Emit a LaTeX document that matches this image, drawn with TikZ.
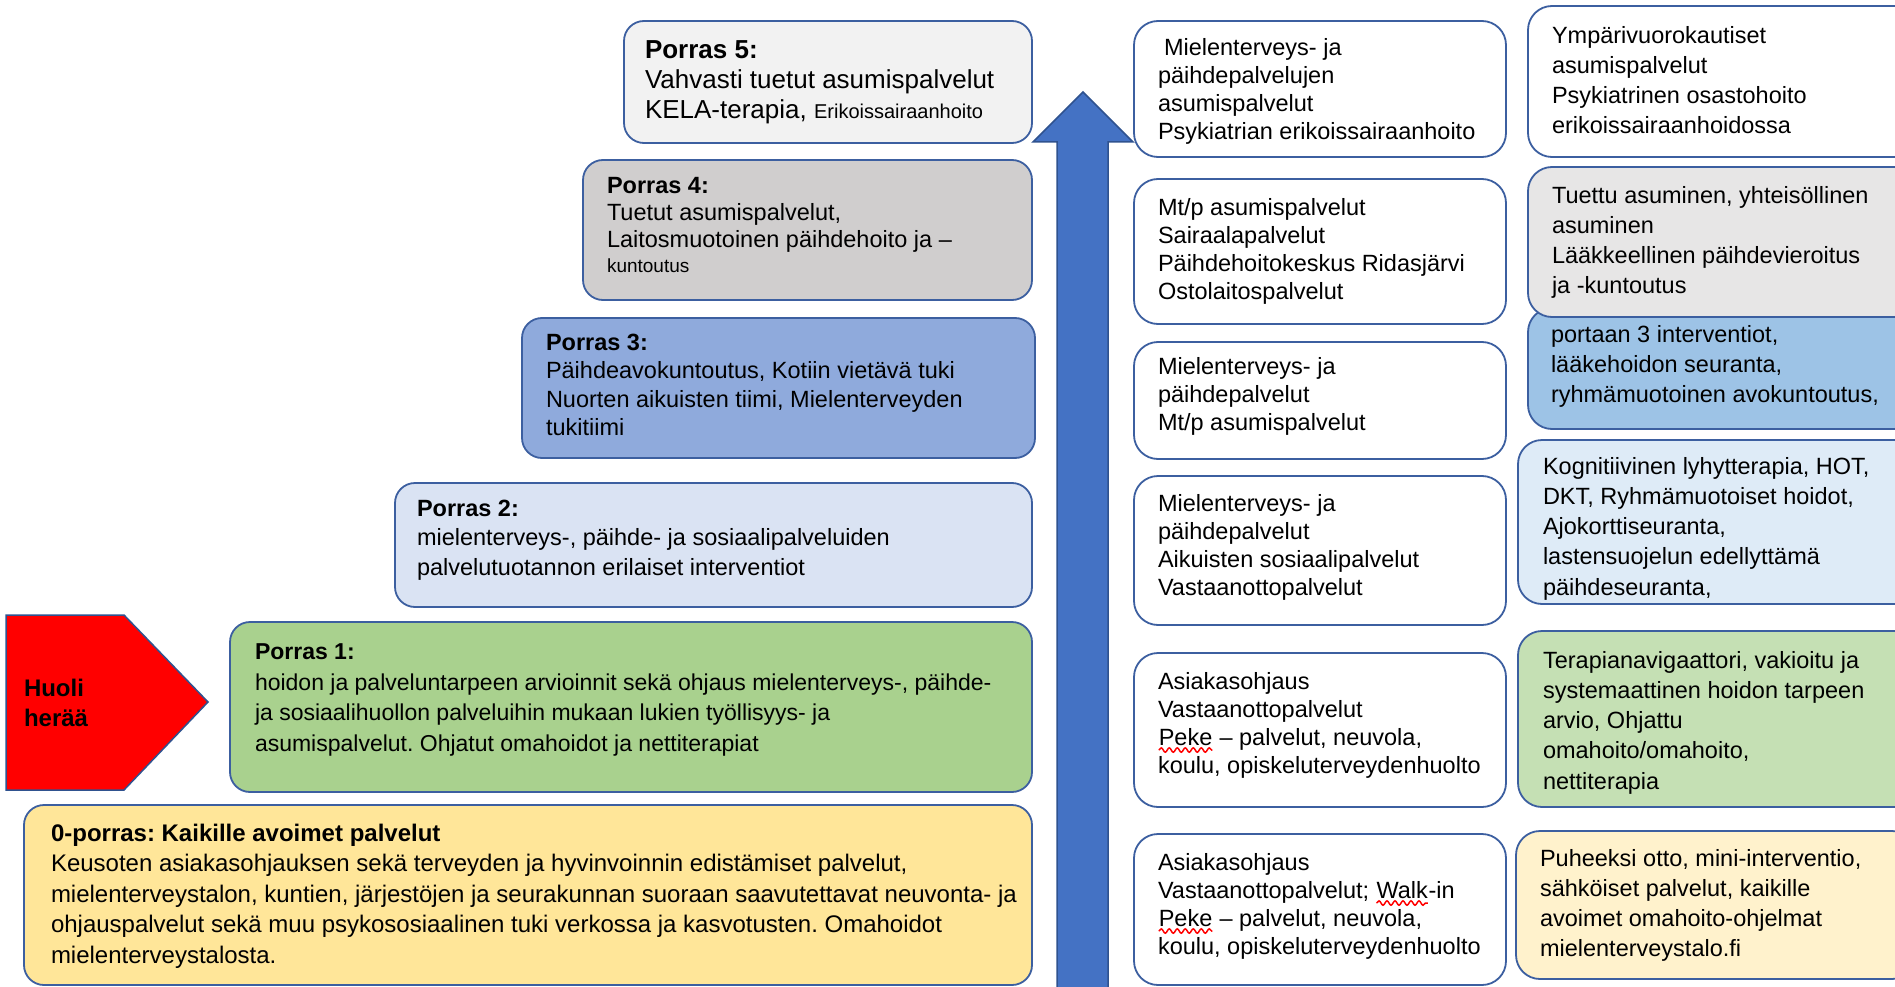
\documentclass[tikz,border=0pt]{standalone}
\usepackage{fontspec}
\setmainfont{Liberation Sans}
\frenchspacing
\usetikzlibrary{decorations.pathmorphing}
\definecolor{bordc}{RGB}{60,95,160}
\definecolor{cfive}{HTML}{F2F2F2}
\definecolor{cfour}{HTML}{D0CECE}
\definecolor{cthree}{HTML}{8FAADC}
\definecolor{ctwo}{HTML}{DAE3F3}
\definecolor{cone}{HTML}{A9D18E}
\definecolor{czero}{HTML}{FFE699}
\definecolor{arrowc}{HTML}{4472C4}
\definecolor{arrowb}{HTML}{2F528F}
\definecolor{rtwo}{HTML}{E7E6E6}
\definecolor{rthree}{HTML}{9DC3E6}
\definecolor{rfour}{HTML}{DEEBF7}
\definecolor{rfive}{HTML}{C5E0B4}
\definecolor{rsix}{HTML}{FFF2CC}
\newcommand{\fsz}[2]{\fontsize{#1}{#2}\selectfont}
\newcommand{\squig}[1]{\tikz[baseline=(sq.base)]{\node[inner sep=0pt,outer sep=0pt] (sq) {#1};\draw[red,line width=1.5pt,decorate,decoration={snake,amplitude=2.2pt,segment length=8pt}] ([yshift=-5pt]sq.base west) -- ([yshift=-5pt]sq.base east);}}
\tikzset{
  box/.style={draw=bordc, line width=1.8pt, rounded corners=20pt, anchor=north west, inner sep=0pt, outer sep=0pt},
  mbox/.style={box, fill=white, rounded corners=24pt, minimum width=372pt},
  rbox/.style={box, rounded corners=24pt, minimum width=400pt},
  txt/.style={anchor=north west, inner sep=0pt, outer sep=0pt, align=left, text=black},
  mtxt/.style={txt, font=\fsz{23.5}{28}},
  rtxt/.style={txt, font=\fsz{23.5}{30.3}},
}
\begin{document}
\begin{tikzpicture}[x=1pt,y=-1pt]
\useasboundingbox (0,0) rectangle (1895,987);
\fill[white] (0,0) rectangle (1895,987);

% steps (portaat)
\node[box, fill=cfive, minimum width=408pt, minimum height=122pt] (p5) at (624,21) {};
\node[box, fill=cfour, minimum width=449pt, minimum height=140pt] (p4) at (583,160) {};
\node[box, fill=cthree, minimum width=513pt, minimum height=140pt] (p3) at (522,318) {};
\node[box, fill=ctwo, minimum width=637pt, minimum height=124pt] (p2) at (395,483) {};
\node[box, fill=cone, minimum width=802pt, minimum height=170pt] (p1) at (230,622) {};
\node[box, fill=czero, minimum width=1008pt, minimum height=180pt] (p0) at (24,805) {};

% Huoli herää
\draw[fill=red, draw=arrowb, line width=1.5pt] (6,615) -- (124,615) -- (208,702) -- (124,790) -- (6,790) -- cycle;
\node[txt, font=\bfseries\fsz{24}{30}] (huoli) at (24,679) {Huoli\\herää};

% big arrow
\draw[fill=arrowc, draw=arrowb, line width=1.5pt] (1057,1000) -- (1057,142) -- (1033,142) -- (1083,92) -- (1133,142) -- (1108,142) -- (1108,1000) -- cycle;

% middle column
\node[mbox, minimum height=136pt] (m1) at (1134,21) {};
\node[mbox, minimum height=145pt] (m2) at (1134,179) {};
\node[mbox, minimum height=117pt] (m3) at (1134,342) {};
\node[mbox, minimum height=149pt] (m4) at (1134,476) {};
\node[mbox, minimum height=154pt] (m5) at (1134,653) {};
\node[mbox, minimum height=151pt] (m6) at (1134,834) {};

% right column
\node[rbox, fill=white, minimum width=390pt, minimum height=151pt] (r1) at (1528,6) {};
\node[rbox, fill=rthree, minimum width=390pt, minimum height=121pt] (r3) at (1528,308) {};
\node[rbox, fill=rtwo, minimum width=390pt, minimum height=150pt] (r2) at (1528,167) {};
\node[rbox, fill=rfour, minimum height=164pt] (r4) at (1518,440) {};
\node[rbox, fill=rfive, minimum height=176pt] (r5) at (1518,631) {};
\node[rbox, fill=rsix, minimum height=148pt] (r6) at (1516,831) {};

% step texts
\node[txt, font=\fsz{26}{30}] (p5t) at (645,41) {\textbf{Porras 5:}\\Vahvasti tuetut asumispalvelut\\KELA-terapia, {\fsz{20}{30}Erikoissairaanhoito}};
\node[txt, font=\fsz{23.5}{27}] (p4t) at (607,177) {\textbf{Porras 4:}\\Tuetut asumispalvelut,\\Laitosmuotoinen päihdehoito ja –\\[-2pt]{\fsz{19}{25}kuntoutus}};
\node[txt, font=\fsz{23.5}{28.3}] (p3t) at (546,334) {\textbf{Porras 3:}\\Päihdeavokuntoutus, Kotiin vietävä tuki\\Nuorten aikuisten tiimi, Mielenterveyden\\tukitiimi};
\node[txt, font=\fsz{23.5}{29.5}] (p2t) at (417,500) {\textbf{Porras 2:}\\mielenterveys-, päihde- ja sosiaalipalveluiden\\palvelutuotannon erilaiset interventiot};
\node[txt, font=\fsz{23}{30.5}] (p1t) at (255,644) {\textbf{Porras 1:}\\hoidon ja palveluntarpeen arvioinnit sekä ohjaus mielenterveys-, päihde-\\ja sosiaalihuollon palveluihin mukaan lukien työllisyys- ja\\asumispalvelut. Ohjatut omahoidot ja nettiterapiat};
\node[txt, font=\fsz{24}{30.5}] (p0t) at (51,824) {\textbf{0-porras: Kaikille avoimet palvelut}\\Keusoten asiakasohjauksen sekä terveyden ja hyvinvoinnin edistämiset palvelut,\\mielenterveystalon, kuntien, järjestöjen ja seurakunnan suoraan saavutettavat neuvonta- ja\\ohjauspalvelut sekä muu psykososiaalinen tuki verkossa ja kasvotusten. Omahoidot\\mielenterveystalosta.};

% middle texts
\node[mtxt] (m1t) at (1164,38) {Mielenterveys- ja\\\hspace*{-6pt}päihdepalvelujen\\\hspace*{-6pt}asumispalvelut\\\hspace*{-6pt}Psykiatrian erikoissairaanhoito};
\node[mtxt] (m2t) at (1158,198) {Mt/p asumispalvelut\\Sairaalapalvelut\\Päihdehoitokeskus Ridasjärvi\\Ostolaitospalvelut};
\node[mtxt] (m3t) at (1158,357) {Mielenterveys- ja\\päihdepalvelut\\Mt/p asumispalvelut};
\node[mtxt] (m4t) at (1158,494) {Mielenterveys- ja\\päihdepalvelut\\Aikuisten sosiaalipalvelut\\Vastaanottopalvelut};
\node[mtxt] (m5t) at (1158,672) {Asiakasohjaus\\Vastaanottopalvelut\\\squig{Peke} – palvelut, neuvola,\\koulu, opiskeluterveydenhuolto};
\node[mtxt] (m6t) at (1158,853) {Asiakasohjaus\\Vastaanottopalvelut; \squig{Walk}-in\\\squig{Peke} – palvelut, neuvola,\\koulu, opiskeluterveydenhuolto};

% right texts
\node[rtxt] (r1t) at (1552,26) {Ympärivuorokautiset\\asumispalvelut\\Psykiatrinen osastohoito\\erikoissairaanhoidossa};
\node[rtxt] (r2t) at (1552,186) {Tuettu asuminen, yhteisöllinen\\asuminen\\Lääkkeellinen päihdevieroitus\\ja -kuntoutus};
\node[rtxt] (r3t) at (1551,325) {portaan 3 interventiot,\\lääkehoidon seuranta,\\ryhmämuotoinen avokuntoutus,};
\node[rtxt] (r4t) at (1543,457) {Kognitiivinen lyhytterapia, HOT,\\DKT, Ryhmämuotoiset hoidot,\\Ajokorttiseuranta,\\lastensuojelun edellyttämä\\päihdeseuranta,};
\node[rtxt] (r5t) at (1543,651) {Terapianavigaattori, vakioitu ja\\systemaattinen hoidon tarpeen\\arvio, Ohjattu\\omahoito/omahoito,\\nettiterapia};
\node[rtxt] (r6t) at (1540,849) {Puheeksi otto, mini-interventio,\\sähköiset palvelut, kaikille\\avoimet omahoito-ohjelmat\\mielenterveystalo.fi};
\end{tikzpicture}
\end{document}
